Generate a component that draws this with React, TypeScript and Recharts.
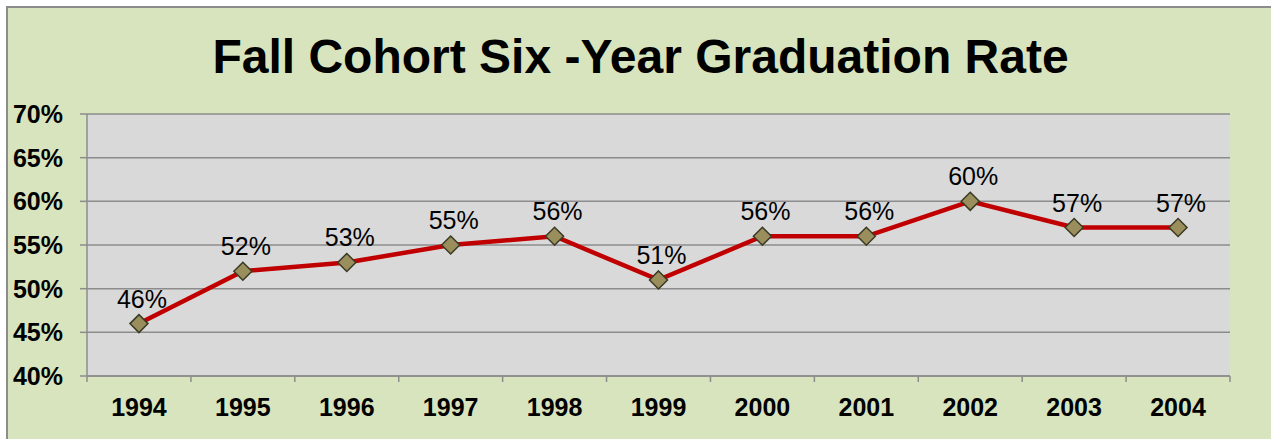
import { ComposedChart, Line, XAxis, YAxis, CartesianGrid, LabelList } from "recharts"

const years = ["1994", "1995", "1996", "1997", "1998", "1999", "2000", "2001", "2002", "2003", "2004"]
const rates = [46, 52, 53, 55, 56, 51, 56, 56, 60, 57, 57]
const yTicks = [40, 45, 50, 55, 60, 65, 70]

const data = years.map((year, i) => ({ year, rate: rates[i] }))

const W = 1271
const H = 439
const margin = { top: 114, right: 41, left: 7, bottom: 13 }
const Y_AXIS_W = 80
const PLOT_W = W - margin.left - margin.right - Y_AXIS_W
const FONT = "'Liberation Sans', Arial, Helvetica, sans-serif"
const GRID = "#8c8c8c"

function YearTick(props: any) {
    const { x, y, payload, index } = props
    const band = PLOT_W / years.length
    return (
        <g>
            <line x1={x - band / 2} x2={x - band / 2} y1={y} y2={y + 6} stroke={GRID} strokeWidth={1.5} />
            {index === years.length - 1 && (
                <line x1={x + band / 2} x2={x + band / 2} y1={y} y2={y + 6} stroke={GRID} strokeWidth={1.5} />
            )}
            <text x={x} y={y + 40} textAnchor="middle" fill="#000" fontSize={25} fontWeight="bold" fontFamily={FONT}>
                {payload.value}
            </text>
        </g>
    )
}

function Diamond(props: any) {
    const { cx, cy } = props
    if (cx == null || cy == null) return null
    const r = 9
    return (
        <polygon
            points={`${cx},${cy - r} ${cx + r},${cy} ${cx},${cy + r} ${cx - r},${cy}`}
            fill="#9a8f5c"
            stroke="#3b3a25"
            strokeWidth={1.5}
        />
    )
}

export default function App() {
    return (
        <div style={{ position: "absolute", left: 0, top: 0, width: W, height: H, overflow: "hidden", background: "#fff" }}>
            <div
                style={{
                    position: "absolute",
                    left: 6,
                    top: 6,
                    width: W + 20,
                    height: H + 20,
                    background: "#d7e4bd",
                    border: "2px solid #8c8c8c",
                }}
            />
            <div
                style={{
                    position: "absolute",
                    left: 0,
                    top: 33,
                    width: 1281,
                    textAlign: "center",
                    fontFamily: FONT,
                    fontWeight: "bold",
                    fontSize: 48,
                    lineHeight: "48px",
                    color: "#000",
                }}
            >
                Fall Cohort Six -Year Graduation Rate
            </div>
            <div style={{ position: "absolute", left: 0, top: 0 }}>
                <ComposedChart width={W} height={H} data={data} margin={margin}>
                    <CartesianGrid vertical={false} fill="#d9d9d9" stroke={GRID} strokeWidth={1.5} />
                    <XAxis
                        dataKey="year"
                        scale="band"
                        axisLine={{ stroke: GRID, strokeWidth: 1.5 }}
                        tickLine={false}
                        tickSize={0}
                        tickMargin={0}
                        height={50}
                        interval={0}
                        tick={<YearTick />}
                    />
                    <YAxis
                        width={Y_AXIS_W}
                        domain={[40, 70]}
                        ticks={yTicks}
                        tickFormatter={(v) => `${v}%`}
                        axisLine={{ stroke: GRID, strokeWidth: 1.5 }}
                        tickLine={{ stroke: GRID, strokeWidth: 1.5 }}
                        tickSize={7}
                        tickMargin={17}
                        tick={{ fill: "#000", fontSize: 25, fontWeight: "bold", fontFamily: FONT }}
                    />
                    <Line
                        dataKey="rate"
                        stroke="#c00000"
                        strokeWidth={4.5}
                        dot={<Diamond />}
                        activeDot={false}
                        isAnimationActive={false}
                    >
                        <LabelList
                            dataKey="rate"
                            position="top"
                            offset={16}
                            dx={3}
                            formatter={(v: any) => `${v}%`}
                            style={{ fill: "#000", fontSize: 25, fontFamily: FONT }}
                        />
                    </Line>
                </ComposedChart>
            </div>
        </div>
    )
}
